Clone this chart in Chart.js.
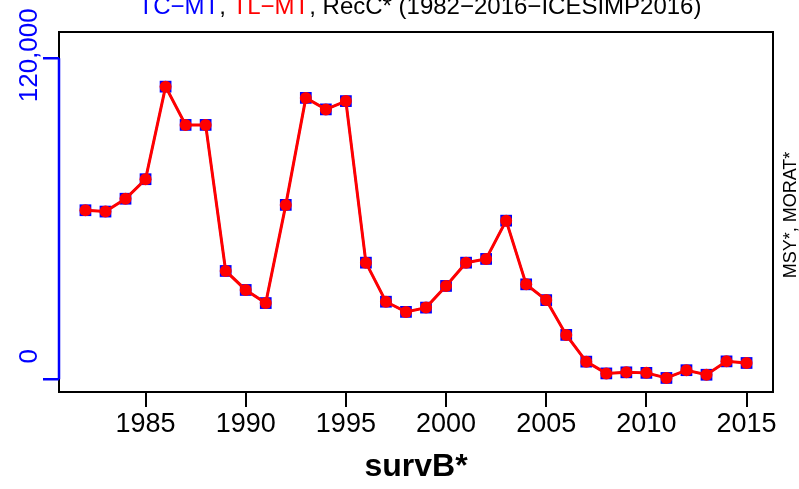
<!DOCTYPE html>
<html lang="en">
<head>
<meta charset="UTF-8">
<title>survB*</title>
<script src="https://cdn.jsdelivr.net/npm/chart.js"></script>
<style>
  html, body { margin: 0; padding: 0; background: #fff; }
  .chart-container { position: relative; width: 799px; height: 489px; }
</style>
</head>
<body>
<div class="chart-container"><canvas id="survChart" width="799" height="489"></canvas></div>
<script>
// survey index by year
const years = [1982, 1983, 1984, 1985, 1986, 1987, 1988, 1989, 1990, 1991,
               1992, 1993, 1994, 1995, 1996, 1997, 1998, 1999, 2000, 2001,
               2002, 2003, 2004, 2005, 2006, 2007, 2008, 2009, 2010, 2011,
               2012, 2013, 2014, 2015];
const tcValues = [63200, 62700, 67500, 74800, 109400, 95100, 95100, 40500, 33400, 28500,
                  65200, 105200, 100900, 104000, 43600, 29000, 25200, 26800, 34900, 43600,
                  45000, 59300, 35500, 29600, 16600, 6600, 2200, 2600, 2400, 500,
                  3400, 1700, 6700, 6100];
const tlValues = [63200, 62700, 67500, 74800, 109400, 95100, 95100, 40500, 33400, 28500,
                  65200, 105200, 100900, 104000, 43600, 29000, 25200, 26800, 34900, 43600,
                  45000, 59300, 35500, 29600, 16600, 6600, 2200, 2600, 2400, 500,
                  3400, 1700, 6700, 6100];
const xTicks = [1985, 1990, 1995, 2000, 2005, 2010, 2015];
const yTicks = [0, 120000];
const yTickLabels = ["0", "120,000"];

const BLUE = "#0000ff";
const RED = "#ff0000";
const FONT = '"Liberation Sans", Arial, sans-serif';

// title, side label and frame, drawn on top of the chart
const framePlugin = {
    id: "frame",
    afterDraw(chart) {
        const { ctx, chartArea: a, scales: { y } } = chart;
        ctx.save();

        ctx.strokeStyle = "#000";
        ctx.lineWidth = 2;
        ctx.strokeRect(a.left, a.top, a.right - a.left, a.bottom - a.top);

        // blue y axis with its two ticks
        ctx.strokeStyle = BLUE;
        ctx.lineWidth = 2.5;
        ctx.beginPath();
        ctx.moveTo(a.left, y.getPixelForValue(yTicks[0]));
        ctx.lineTo(a.left, y.getPixelForValue(yTicks[yTicks.length - 1]));
        yTicks.forEach(v => {
            const py = y.getPixelForValue(v);
            ctx.moveTo(a.left - 16, py);
            ctx.lineTo(a.left, py);
        });
        ctx.stroke();

        ctx.fillStyle = BLUE;
        ctx.font = "26px " + FONT;
        ctx.textAlign = "center";
        ctx.textBaseline = "alphabetic";
        const shifts = [-23, -3];
        yTicks.forEach((v, i) => {
            ctx.save();
            ctx.translate(37, y.getPixelForValue(v) + shifts[i]);
            ctx.rotate(-Math.PI / 2);
            ctx.fillText(yTickLabels[i], 0, 0);
            ctx.restore();
        });

        // right side label
        ctx.fillStyle = "#000";
        ctx.font = "18px " + FONT;
        ctx.save();
        ctx.translate(796, 215);
        ctx.rotate(-Math.PI / 2);
        ctx.fillText("MSY*, MORAT*", 0, 0);
        ctx.restore();

        // multi-coloured title
        const parts = [
            { text: "TC\u2212MT", color: BLUE },
            { text: ", ", color: "#000" },
            { text: "TL\u2212MT", color: RED },
            { text: ", RecC* (1982\u22122016\u2212ICESIMP2016)", color: "#000" }
        ];
        ctx.font = "24px " + FONT;
        ctx.textAlign = "left";
        const total = parts.reduce((s, p) => s + ctx.measureText(p.text).width, 0);
        let tx = (a.left + a.right) / 2 - total / 2 + 4;
        parts.forEach(p => {
            ctx.fillStyle = p.color;
            ctx.fillText(p.text, tx, 14);
            tx += ctx.measureText(p.text).width;
        });

        ctx.restore();
    }
};

const ctx = document.getElementById("survChart").getContext("2d");
new Chart(ctx, {
    type: "line",
    data: {
        datasets: [
            {
                label: "TC-MT",
                data: years.map((yr, i) => ({ x: yr, y: tcValues[i] })),
                order: 2,
                borderColor: BLUE,
                borderWidth: 2,
                pointStyle: "rect",
                pointRadius: 8.3,
                pointBackgroundColor: BLUE,
                pointBorderWidth: 0,
                tension: 0
            },
            {
                label: "TL-MT",
                data: years.map((yr, i) => ({ x: yr, y: tlValues[i] })),
                order: 1,
                borderColor: RED,
                borderWidth: 3,
                pointStyle: "circle",
                pointRadius: 6,
                pointBackgroundColor: RED,
                pointBorderWidth: 0,
                tension: 0
            }
        ]
    },
    options: {
        responsive: false,
        animation: false,
        events: [],
        layout: { padding: { left: 59, right: 26, top: 32, bottom: 0 } },
        plugins: {
            legend: { display: false },
            tooltip: { enabled: false }
        },
        scales: {
            x: {
                type: "linear",
                min: 1980.68,
                max: 2016.32,
                afterBuildTicks: s => { s.ticks = xTicks.map(v => ({ value: v })); },
                afterFit: s => { s.height = 97; },
                grid: { drawOnChartArea: false, tickLength: 15, color: "#000", lineWidth: 2 },
                border: { display: false },
                ticks: {
                    color: "#000",
                    font: { family: FONT, size: 27 },
                    padding: 1,
                    maxRotation: 0,
                    autoSkip: false,
                    callback: v => String(v)
                },
                title: {
                    display: true,
                    text: "survB*",
                    color: "#000",
                    font: { family: FONT, size: 32, weight: "bold" },
                    padding: { top: 0, bottom: 3 }
                }
            },
            y: {
                type: "linear",
                min: -4750,
                max: 129830,
                display: false
            }
        }
    },
    plugins: [framePlugin]
});
</script>
</body>
</html>
